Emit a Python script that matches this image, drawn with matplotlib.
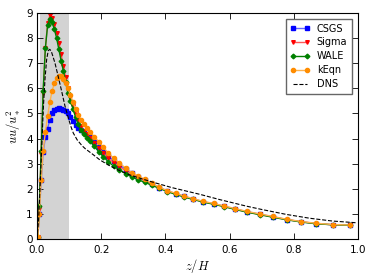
import numpy as np
import matplotlib
matplotlib.use('Agg')
import matplotlib.pyplot as plt

# grid points (z/H) shared by the LES runs
z = [0.003, 0.007, 0.013, 0.019, 0.026, 0.033, 0.040, 0.047, 0.054, 0.061,
     0.068, 0.075, 0.082, 0.089, 0.096, 0.104, 0.112, 0.120, 0.128, 0.137,
     0.146, 0.155, 0.165, 0.178, 0.192, 0.207, 0.222, 0.239, 0.257, 0.276,
     0.295, 0.315, 0.336, 0.358, 0.381, 0.406, 0.432, 0.459, 0.487, 0.518,
     0.550, 0.583, 0.618, 0.655, 0.695, 0.735, 0.778, 0.823, 0.870, 0.922,
     0.975]

csgs = [0.05, 1.0, 2.35, 3.45, 4.05, 4.4, 4.75, 5.0, 5.12, 5.18,
        5.2, 5.18, 5.15, 5.1, 5.03, 4.85, 4.68, 4.55, 4.43, 4.33,
        4.25, 4.17, 4.05, 3.86, 3.66, 3.47, 3.3, 3.12, 2.95, 2.78,
        2.62, 2.48, 2.35, 2.2, 2.05, 1.92, 1.81, 1.7, 1.6, 1.49,
        1.41, 1.31, 1.2, 1.09, 0.99, 0.89, 0.78, 0.69, 0.62, 0.57,
        0.55]

sigma = [0.1, 1.2, 3.4, 5.8, 7.6, 8.6, 8.9, 8.8, 8.55, 8.2,
         7.8, 7.35, 6.9, 6.45, 6.0, 5.65, 5.3, 5.0, 4.72, 4.5,
         4.32, 4.18, 4.03, 3.83, 3.62, 3.42, 3.22, 3.04, 2.88, 2.72,
         2.58, 2.45, 2.33, 2.19, 2.04, 1.91, 1.8, 1.69, 1.59, 1.48,
         1.4, 1.3, 1.19, 1.08, 0.98, 0.88, 0.78, 0.69, 0.62, 0.57,
         0.55]

wale = [0.1, 1.3, 3.5, 5.9, 7.6, 8.5, 8.75, 8.62, 8.35, 8.0,
        7.55, 7.1, 6.7, 6.25, 5.82, 5.5, 5.18, 4.85, 4.57, 4.33,
        4.17, 4.03, 3.9, 3.7, 3.48, 3.27, 3.08, 2.9, 2.75, 2.6,
        2.47, 2.36, 2.26, 2.14, 2.02, 1.89, 1.78, 1.67, 1.58, 1.47,
        1.39, 1.29, 1.18, 1.07, 0.97, 0.87, 0.77, 0.68, 0.61, 0.57,
        0.55]

keqn = [0.1, 1.0, 2.35, 3.5, 4.25, 4.9, 5.45, 5.9, 6.2, 6.4,
        6.5, 6.48, 6.38, 6.2, 6.0, 5.75, 5.45, 5.18, 4.95, 4.75,
        4.58, 4.43, 4.27, 4.08, 3.88, 3.65, 3.43, 3.22, 3.02, 2.83,
        2.65, 2.51, 2.38, 2.22, 2.06, 1.93, 1.82, 1.71, 1.61, 1.5,
        1.42, 1.32, 1.21, 1.1, 1.0, 0.9, 0.79, 0.7, 0.63, 0.58,
        0.56]

z_dns = [0.0, 0.005, 0.01, 0.015, 0.02, 0.025, 0.03, 0.035, 0.04, 0.045,
         0.05, 0.056, 0.066, 0.077, 0.087, 0.098, 0.105, 0.113, 0.125, 0.14,
         0.15, 0.175, 0.196, 0.222, 0.253, 0.29, 0.331, 0.368, 0.42, 0.508,
         0.57, 0.653, 0.7, 0.778, 0.85, 0.92, 0.996]
dns = [0.0, 0.8, 2.2, 3.8, 5.3, 6.4, 7.15, 7.5, 7.55, 7.45,
       7.25, 7.0, 6.47, 5.87, 5.3, 4.8, 4.5, 4.22, 3.95, 3.72,
       3.6, 3.36, 3.15, 2.95, 2.75, 2.55, 2.38, 2.24, 2.05, 1.78,
       1.57, 1.31, 1.18, 0.98, 0.83, 0.72, 0.65]

plt.rcParams['font.size'] = 7.5
plt.rcParams['xtick.direction'] = 'in'
plt.rcParams['ytick.direction'] = 'in'
plt.rcParams['xtick.top'] = True
plt.rcParams['ytick.right'] = True
plt.rcParams['mathtext.fontset'] = 'cm'

fig = plt.figure(figsize=(3.74, 2.8), dpi=100)
ax = fig.add_axes([0.099, 0.146, 0.858, 0.808])

ax.axvspan(0.01, 0.1, color='#d3d3d3', lw=0, zorder=0)

ax.plot(z, csgs, color=(0.4, 0.4, 1.0), marker='s', ms=2.4, mfc='b', mec='b', lw=1, label='CSGS')
ax.plot(z, sigma, color=(1.0, 0.35, 0.35), marker='v', ms=2.6, mfc='r', mec='r', lw=1, label='Sigma')
ax.plot(z, wale, color='g', marker='D', ms=2.4, mfc='g', mec='g', lw=1, label='WALE')
ax.plot(z, keqn, color=(1.0, 0.7, 0.3), marker='o', ms=3, mfc='darkorange', mec='darkorange', lw=1, label='kEqn')
ax.plot(z_dns, dns, 'k--', lw=0.8, label='DNS')

ax.set_xlim(0, 1)
ax.set_ylim(0, 9)
ax.set_xticks(np.arange(0, 1.01, 0.2))
ax.set_yticks(range(10))
ax.tick_params(length=4, width=0.6)
ax.tick_params(axis='x', pad=4.5)
ax.tick_params(axis='y', pad=3)
ax.set_xlabel('$z/H$', fontsize=9, labelpad=1)
ax.set_ylabel('$uu/u_*^2$', fontsize=9, labelpad=2)

ax.legend(loc='upper right', numpoints=2, fancybox=False, edgecolor='0.4',
          framealpha=1, fontsize=7, handlelength=2.0, borderpad=0.5,
          labelspacing=0.4, borderaxespad=0.6, handletextpad=0.7)

fig.savefig('out.png', dpi=100)
